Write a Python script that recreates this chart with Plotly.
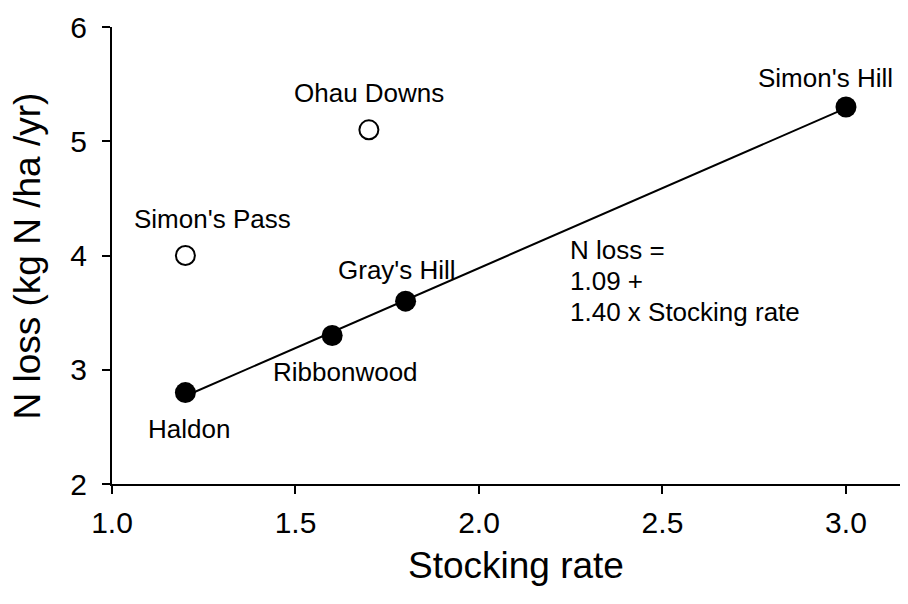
import plotly.graph_objects as go

# ---- data ----
filled_sites = ["Haldon", "Ribbonwood", "Gray's Hill", "Simon's Hill"]
filled_rate = [1.2, 1.6, 1.8, 3.0]
filled_nloss = [2.8, 3.3, 3.6, 5.3]

open_sites = ["Simon's Pass", "Ohau Downs"]
open_rate = [1.2, 1.7]
open_nloss = [4.0, 5.1]

fit_intercept = 1.09
fit_slope = 1.40
fit_rate = [min(filled_rate), max(filled_rate)]
fit_nloss = [fit_intercept + fit_slope * v for v in fit_rate]

x_ticks = [1.0, 1.5, 2.0, 2.5, 3.0]
y_ticks = [2, 3, 4, 5, 6]

FONT = "Arial, 'Liberation Sans', sans-serif"

fig = go.Figure()
fig.add_trace(go.Scatter(x=fit_rate, y=fit_nloss, mode="lines",
                         line=dict(color="black", width=2), hoverinfo="skip"))
fig.add_trace(go.Scatter(x=filled_rate, y=filled_nloss, mode="markers",
                         marker=dict(size=21, color="black", line=dict(width=0))))
fig.add_trace(go.Scatter(x=open_rate, y=open_nloss, mode="markers",
                         marker=dict(size=19, color="white", line=dict(color="black", width=2))))

# label pixel offsets (x, y) relative to point
label_offsets = {
    "Haldon": (4, -36),
    "Ribbonwood": (13, -37),
    "Gray's Hill": (-9, 31),
    "Simon's Hill": (-20, 29),
    "Simon's Pass": (27, 37),
    "Ohau Downs": (0, 37),
}
for names, xs, ys in [(filled_sites, filled_rate, filled_nloss), (open_sites, open_rate, open_nloss)]:
    for n, xv, yv in zip(names, xs, ys):
        dx, dy = label_offsets[n]
        fig.add_annotation(x=xv, y=yv, text=n, showarrow=False, xshift=dx, yshift=dy,
                           xanchor="center", yanchor="middle",
                           font=dict(family=FONT, size=26, color="black"))

eq_lines = ["N loss =", f"{fit_intercept:.2f} +", f"{fit_slope:.2f} x Stocking rate"]
for i, line in enumerate(eq_lines):
    fig.add_annotation(x=2.243, y=3.78, text=line, showarrow=False,
                       xanchor="left", yanchor="middle", align="left",
                       yshift=31 * (1 - i),
                       font=dict(family=FONT, size=26, color="black"))

# axis titles
fig.add_annotation(xref="paper", yref="paper", x=0.508, y=-0.179, text="Stocking rate",
                   showarrow=False, xanchor="center", yanchor="middle",
                   font=dict(family=FONT, size=37, color="black"))
fig.add_annotation(xref="paper", yref="paper", x=-0.106, y=0.499, text="N loss (kg N /ha /yr)",
                   showarrow=False, xanchor="center", yanchor="middle", textangle=-90,
                   font=dict(family=FONT, size=37, color="black"))

fig.update_layout(
    width=900, height=596,
    margin=dict(l=104, r=0, t=19, b=120),
    paper_bgcolor="white", plot_bgcolor="white",
    showlegend=False,
    font=dict(family=FONT, color="black"),
)
fig.update_xaxes(range=[1.0, 3.169], tickvals=x_ticks, tickformat=".1f",
                 showgrid=False, zeroline=False, showline=True, linecolor="black", linewidth=2,
                 ticks="outside", ticklen=8, tickwidth=2, tickcolor="black",
                 tickfont=dict(family=FONT, size=30, color="black"), ticklabelstandoff=3)
fig.update_yaxes(range=[2, 6], tickvals=y_ticks,
                 showgrid=False, zeroline=False, showline=True, linecolor="black", linewidth=2,
                 ticks="outside", ticklen=8, tickwidth=2, tickcolor="black",
                 tickfont=dict(family=FONT, size=30, color="black"), ticklabelstandoff=9)

fig.write_html("out.html")
